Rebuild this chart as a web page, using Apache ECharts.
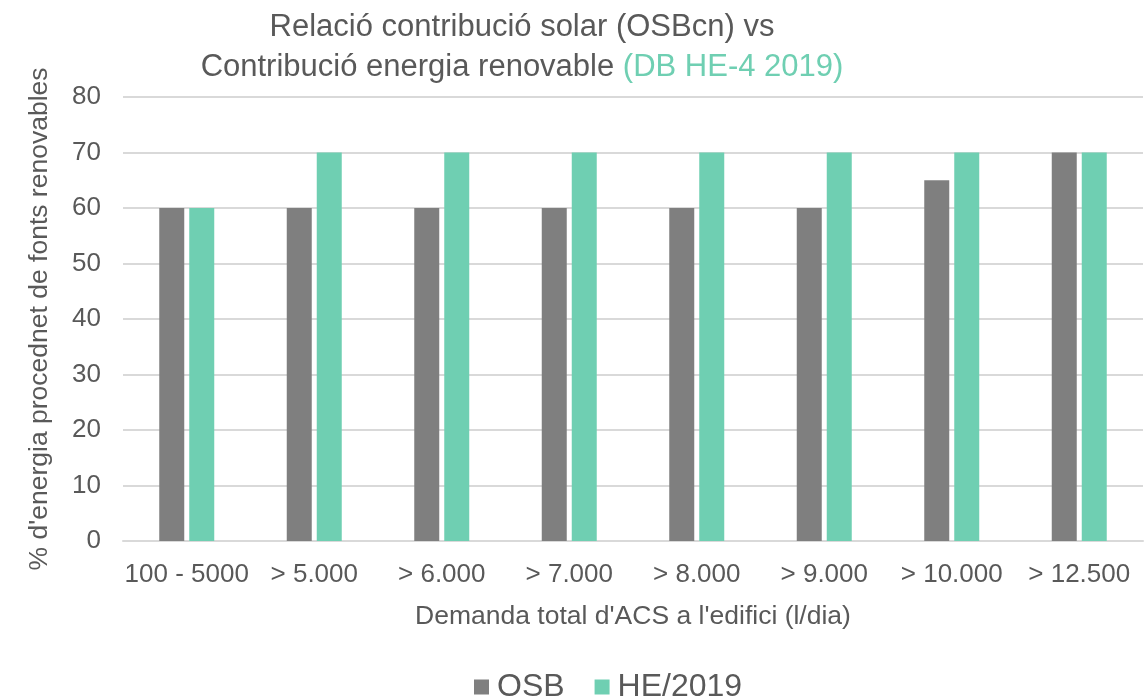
<!DOCTYPE html>
<html>
<head>
<meta charset="utf-8">
<script src="https://cdn.jsdelivr.net/npm/echarts@6/dist/echarts.min.js"></script>
<style>
  html, body { margin: 0; padding: 0; background: #fff; }
  #chart { width: 1148px; height: 698px; }
</style>
</head>
<body>
<div id="chart"></div>
<script>
// Demand ranges (litres/day) and the renewable share required for each
const categories = ['100 - 5000', '> 5.000', '> 6.000', '> 7.000', '> 8.000', '> 9.000', '> 10.000', '> 12.500'];
const osbValues = [60, 60, 60, 60, 60, 60, 65, 70];
const heValues = [60, 70, 70, 70, 70, 70, 70, 70];
const yTicks = { min: 0, max: 80, interval: 10 };

const textColor = '#595959';
const gridColor = '#d9d9d9';
const font = "'Liberation Sans', Arial, sans-serif";

const chart = echarts.init(document.getElementById('chart'), null, { renderer: 'canvas' });

chart.setOption({
  animation: false,
  textStyle: { fontFamily: font, color: textColor },
  title: {
    left: 517,
    textAlign: 'center',
    top: 2,
    text: 'Relació contribució solar (OSBcn) vs\n{a|Contribució energia renovable }{b|(DB HE-4 2019)}',
    textStyle: {
      fontFamily: font,
      fontSize: 31,
      fontWeight: 'normal',
      color: textColor,
      lineHeight: 40,
      rich: {
        a: { fontFamily: font, fontSize: 31, color: textColor, lineHeight: 40 },
        b: { fontFamily: font, fontSize: 31, color: '#6fcfb2', lineHeight: 40 }
      }
    }
  },
  legend: {
    top: 666,
    left: 469,
    itemWidth: 15,
    itemHeight: 15,
    itemGap: 30,
    icon: 'rect',
    textStyle: { fontFamily: font, fontSize: 32, color: textColor, padding: [0, 0, 0, 3] },
    data: ['OSB', 'HE/2019']
  },
  grid: { left: 123, right: 5, top: 97, bottom: 157, containLabel: false },
  xAxis: {
    type: 'category',
    data: categories,
    name: "Demanda total d'ACS a l'edifici (l/dia)",
    nameLocation: 'middle',
    nameGap: 62,
    nameTextStyle: { fontFamily: font, fontSize: 26.5, color: textColor },
    axisLine: { lineStyle: { color: gridColor, width: 2 } },
    axisTick: { show: false },
    axisLabel: { fontFamily: font, fontSize: 26, color: textColor, margin: 21, interval: 0 }
  },
  yAxis: {
    type: 'value',
    min: yTicks.min,
    max: yTicks.max,
    interval: yTicks.interval,
    name: "% d'energia procednet de fonts renovables",
    nameLocation: 'middle',
    nameGap: 70,
    nameRotate: 90,
    nameTextStyle: { fontFamily: font, fontSize: 26.5, color: textColor },
    axisLine: { show: false },
    axisTick: { show: false },
    axisLabel: { fontFamily: font, fontSize: 26, color: textColor, margin: 22 },
    splitLine: { lineStyle: { color: gridColor, width: 2 } }
  },
  series: [
    {
      name: 'OSB',
      type: 'bar',
      data: osbValues,
      barWidth: 25,
      barGap: '20%',
      itemStyle: { color: '#7f7f7f' }
    },
    {
      name: 'HE/2019',
      type: 'bar',
      data: heValues,
      barWidth: 25,
      itemStyle: { color: '#6fcfb2' }
    }
  ]
});
</script>
</body>
</html>
